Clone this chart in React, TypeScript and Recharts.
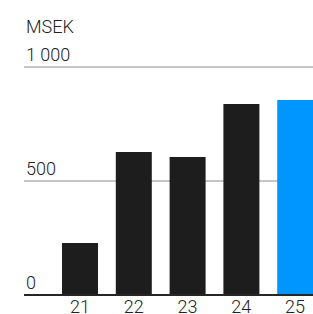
import { Bar, BarChart, CartesianGrid, Cell, XAxis, YAxis } from "recharts";

const years = ["21", "22", "23", "24", "25"];
const sales = [228, 627, 605, 838, 855];
const highlighted = [false, false, false, false, true];
const yTicks = [0, 500, 1000];
const unitLabel = "MSEK";

const data = years.map((year, i) => ({ year, value: sales[i], highlight: highlighted[i] }));

const font = "Roboto, 'Noto Sans', sans-serif";
const textColor = "#222222";

function formatTick(v: number) {
  return v >= 1000 ? `${Math.floor(v / 1000)}\u00a0${String(v % 1000).padStart(3, "0")}` : String(v);
}

function YTick(props: any) {
  const { y, payload } = props;
  return (
    <text x={26} y={y - 6} fill={textColor} fontSize={18} fontWeight={300} fontFamily={font}>
      {formatTick(payload.value)}
    </text>
  );
}

export default function App() {
  return (
    <div style={{ position: "relative", width: 313, height: 314, overflow: "hidden", background: "#fff" }}>
      <style>{`body { margin: 0; }`}</style>
      <div
        style={{
          position: "absolute",
          left: 26,
          top: 16,
          fontFamily: font,
          fontSize: 18,
          fontWeight: 300,
          lineHeight: "21px",
          color: textColor,
        }}
      >
        {unitLabel}
      </div>
      <BarChart
        width={330}
        height={314}
        data={data}
        margin={{ top: 67, right: 0, bottom: 0, left: 0 }}
        barCategoryGap={0}
      >
        <CartesianGrid vertical={false} stroke="#8c8c8c" strokeWidth={1} />
        <YAxis
          domain={[0, 1000]}
          ticks={yTicks}
          width={24}
          axisLine={false}
          tickLine={false}
          tick={<YTick />}
          interval={0}
        />
        <XAxis
          dataKey="year"
          height={19}
          padding={{ left: 29, right: 8 }}
          axisLine={{ stroke: "#262626", strokeWidth: 2 }}
          tickLine={false}
          tickSize={0}
          tickMargin={5}
          tick={{ fill: textColor, fontSize: 18, fontWeight: 300, fontFamily: font }}
          interval={0}
        />
        <Bar dataKey="value" barSize={36} isAnimationActive={false}>
          {data.map((d) => (
            <Cell key={d.year} fill={d.highlight ? "#0096ff" : "#1d1d1d"} />
          ))}
        </Bar>
      </BarChart>
    </div>
  );
}
